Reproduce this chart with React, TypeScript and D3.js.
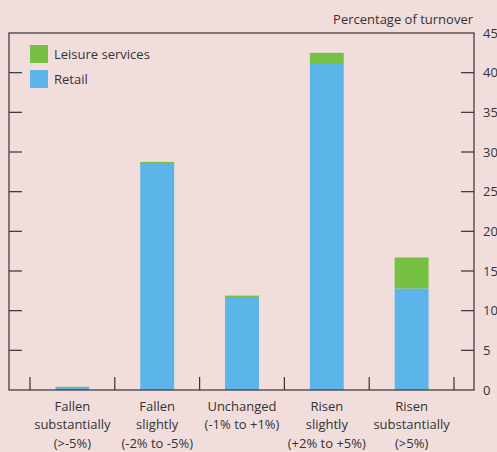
import React, { useEffect, useRef } from "react";
import * as d3 from "d3";

const categories = [
  ["Fallen", "substantially", "(>-5%)"],
  ["Fallen", "slightly", "(-2% to -5%)"],
  ["Unchanged", "(-1% to +1%)"],
  ["Risen", "slightly", "(+2% to +5%)"],
  ["Risen", "substantially", "(>5%)"],
];
const retail = [0.25, 28.5, 11.6, 41.1, 12.8];
const leisure = [0.15, 0.25, 0.3, 1.4, 3.9];
const yTicks = [0, 5, 10, 15, 20, 25, 30, 35, 40, 45];
const seriesNames = ["Leisure services", "Retail"];

const W = 497, H = 452;
const BG = "#F2DDDD";
const BLUE = "#5CB5E8";
const GREEN = "#76C043";
const INK = "#333333";
const FONT = "'Open Sans', 'Noto Sans', sans-serif";

export default function App() {
  const ref = useRef<SVGSVGElement>(null);
  useEffect(() => {
    const svg = d3.select(ref.current);
    svg.selectAll("*").remove();
    const left = 9, right = 474, top = 33, bottom = 390;
    svg.append("rect").attr("width", W).attr("height", H).attr("fill", BG);

    const x = d3.scaleBand<number>().domain(d3.range(categories.length)).range([30, 454]).padding(0);
    const y = d3.scaleLinear().domain([0, 45]).range([bottom, top]);
    const bw = x.bandwidth() * 0.4;

    const g = svg.append("g");
    // bars
    categories.forEach((_, i) => {
      const cx = (x(i) as number) + x.bandwidth() / 2;
      g.append("rect").attr("x", cx - bw / 2).attr("width", bw)
        .attr("y", y(retail[i])).attr("height", y(0) - y(retail[i])).attr("fill", BLUE);
      g.append("rect").attr("x", cx - bw / 2).attr("width", bw)
        .attr("y", y(retail[i] + leisure[i])).attr("height", y(retail[i]) - y(retail[i] + leisure[i])).attr("fill", GREEN);
    });

    // frame
    g.append("rect").attr("x", left).attr("y", top).attr("width", right - left).attr("height", bottom - top)
      .attr("fill", "none").attr("stroke", INK).attr("stroke-width", 1.2);

    // y ticks
    yTicks.forEach((t) => {
      if (t !== 0 && t !== 45) {
        g.append("line").attr("x1", left).attr("x2", left + 13).attr("y1", y(t)).attr("y2", y(t))
          .attr("stroke", INK).attr("stroke-width", 1.2);
        g.append("line").attr("x1", right - 13).attr("x2", right).attr("y1", y(t)).attr("y2", y(t))
          .attr("stroke", INK).attr("stroke-width", 1.2);
      }
      g.append("text").attr("x", 483).attr("y", y(t)).attr("dy", "0.35em")
        .attr("font-family", FONT).attr("font-size", 13).attr("fill", INK).text(String(t));
    });

    // x ticks at band boundaries
    const bounds = categories.map((_, i) => x(i) as number).concat([x.range()[1]]);
    bounds.forEach((b) => {
      g.append("line").attr("x1", b).attr("x2", b).attr("y1", bottom).attr("y2", bottom - 13)
        .attr("stroke", INK).attr("stroke-width", 1.2);
    });

    // x labels
    categories.forEach((lines, i) => {
      const cx = (x(i) as number) + x.bandwidth() / 2;
      const t = g.append("text").attr("text-anchor", "middle").attr("font-family", FONT)
        .attr("font-size", 13).attr("fill", INK);
      lines.forEach((l, j) => {
        t.append("tspan").attr("x", cx).attr("y", 406 + j * 18.5).attr("dy", "0.35em").text(l);
      });
    });

    // axis title
    g.append("text").attr("x", 473).attr("y", 19).attr("dy", "0.35em").attr("text-anchor", "end")
      .attr("font-family", FONT).attr("font-size", 13).attr("fill", INK).text("Percentage of turnover");

    // legend
    const colors = [GREEN, BLUE];
    seriesNames.forEach((n, i) => {
      const ly = 45 + i * 25;
      g.append("rect").attr("x", 30).attr("y", ly).attr("width", 18).attr("height", 18).attr("fill", colors[i]);
      g.append("text").attr("x", 54).attr("y", ly + 9).attr("dy", "0.35em")
        .attr("font-family", FONT).attr("font-size", 13).attr("fill", INK).text(n);
    });
  }, []);
  return (
    <svg ref={ref} width={W} height={H} style={{ position: "absolute", left: 0, top: 0, display: "block" }} />
  );
}
